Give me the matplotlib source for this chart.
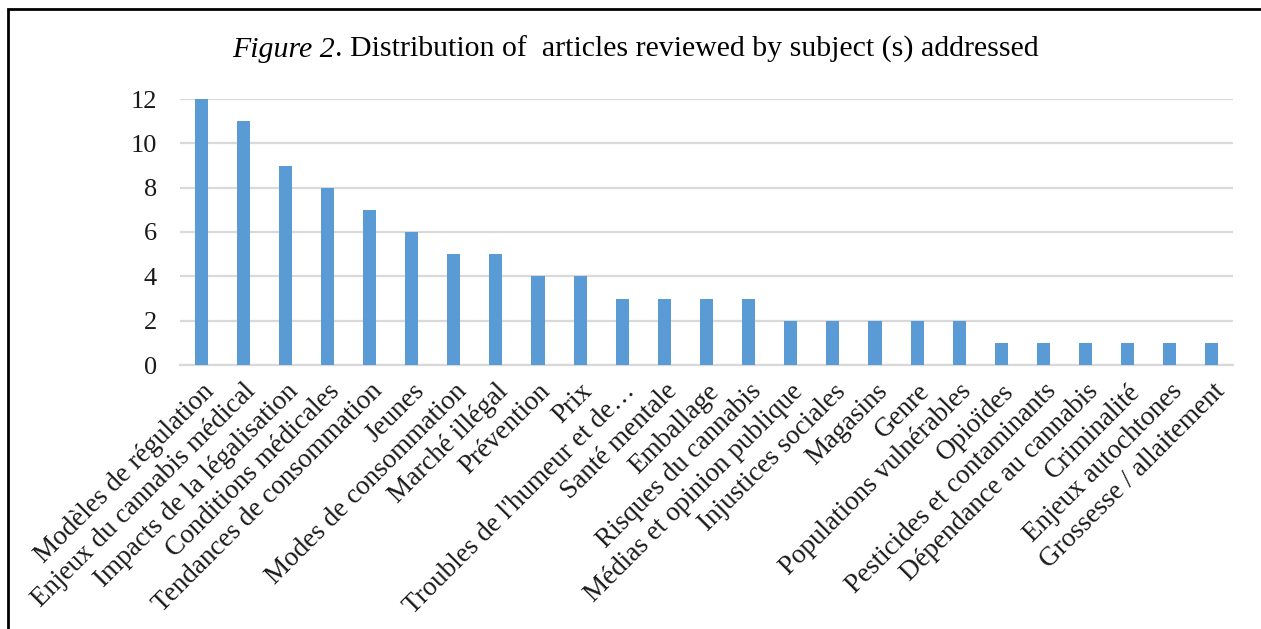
import matplotlib
matplotlib.use("Agg")
import matplotlib.pyplot as plt
from matplotlib.patches import Rectangle

categories = [
    "Modèles de régulation", "Enjeux du cannabis médical", "Impacts de la légalisation",
    "Conditions médicales", "Tendances de consommation", "Jeunes", "Modes de consommation",
    "Marché illégal", "Prévention", "Prix", "Troubles de l'humeur et de…", "Santé mentale",
    "Emballage", "Risques du cannabis", "Médias et opinion publique", "Injustices sociales",
    "Magasins", "Genre", "Populations vulnérables", "Opioïdes", "Pesticides et contaminants",
    "Dépendance au cannabis", "Criminalité", "Enjeux autochtones", "Grossesse / allaitement",
]
values = [12, 11, 9, 8, 7, 6, 5, 5, 4, 4, 3, 3, 3, 3, 2, 2, 2, 2, 2, 1, 1, 1, 1, 1, 1]
yticks = [0, 2, 4, 6, 8, 10, 12]

plt.rcParams['font.family'] = ['Liberation Serif', 'DejaVu Serif']

W, H = 1261, 629
fig = plt.figure(figsize=(W / 100, H / 100), dpi=100)
ax = fig.add_axes([180 / W, 1 - 365 / H, (1233 - 180) / W, (365 - 99) / H])

x = list(range(len(categories)))
ax.bar(x, values, width=0.31, color='#5B9BD5', zorder=3)
ax.set_xlim(-0.5, len(categories) - 0.5)
ax.set_ylim(0, 12)
ax.set_yticks(yticks)
ax.set_yticklabels([str(t) for t in yticks], fontsize=19, color='#1a1a1a')
ax.yaxis.grid(True, color='#D9D9D9', linewidth=1.6, zorder=0)
ax.set_axisbelow(True)
for s in ['top', 'right', 'left']:
    ax.spines[s].set_visible(False)
ax.spines['bottom'].set_color('#D9D9D9')
ax.spines['bottom'].set_linewidth(1.6)
ax.tick_params(axis='both', length=0)
ax.tick_params(axis='y', pad=16.5)
ax.set_xticks(x)
ax.set_xticklabels(categories, rotation=45, ha='right', va='top',
                   rotation_mode='anchor', fontsize=19.5, color='#1a1a1a')
ax.tick_params(axis='x', pad=10)

# title
ty = 1 - 57 / H
t1 = fig.text(232 / W, ty, "Figure 2", fontsize=21.5, style='italic', va='baseline', ha='left')
ax.annotate(". Distribution of  articles reviewed by subject (s) addressed",
            xy=(1, 0), xycoords=t1, va='bottom', ha='left', fontsize=21.5,
            annotation_clip=False)

# frame
fig.patches.append(Rectangle((7.5 / W, -0.1), 1.2, 1 - 9.5 / H + 0.1,
                             transform=fig.transFigure, fill=False,
                             edgecolor='black', linewidth=2, zorder=10))

fig.savefig("out.png", dpi=100)
